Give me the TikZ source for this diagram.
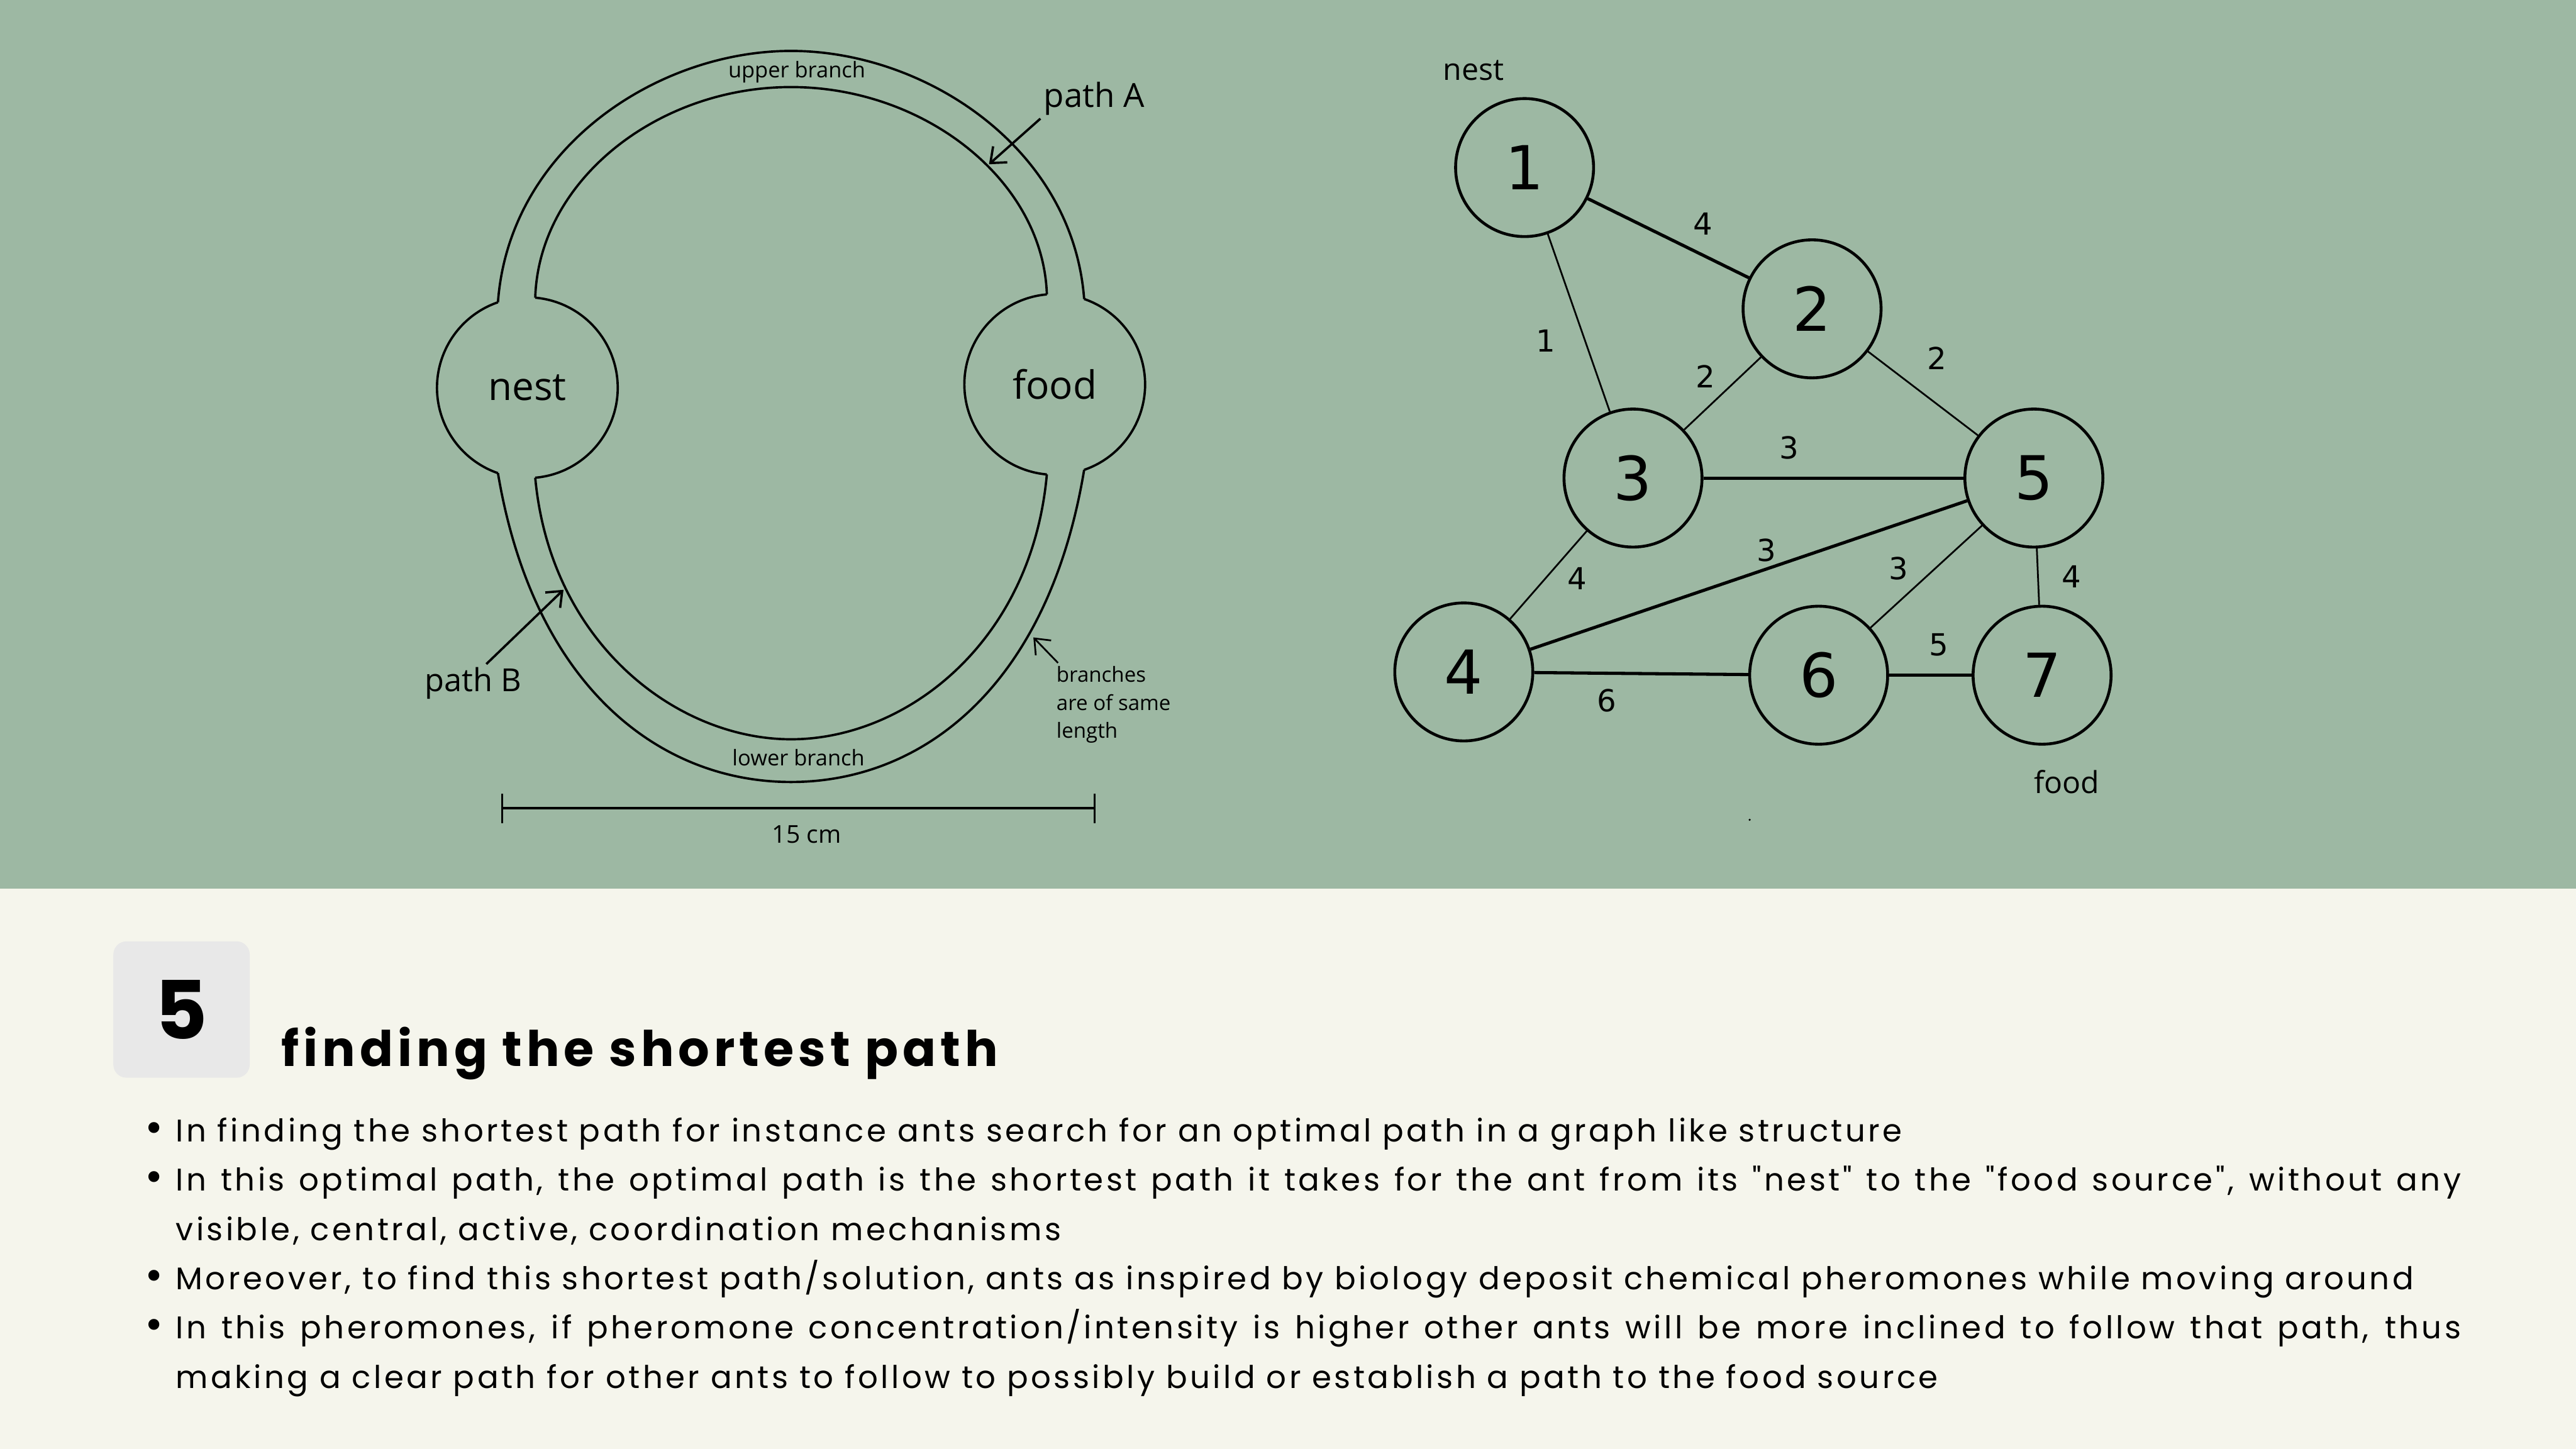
\documentclass[tikz,border=0pt]{standalone}
\usepackage{fontspec}
\setmainfont{Open Sans}
\newfontfamily\numfont{DejaVu Sans}
\newfontfamily\bodyfont[LetterSpace=9]{Poppins}
\newfontfamily\headfont[LetterSpace=9]{Poppins}
\usetikzlibrary{arrows.meta}

\definecolor{sage}{HTML}{9DB8A3}
\definecolor{paper}{HTML}{F5F5EC}
\definecolor{chip}{HTML}{E8E8E8}

\tikzset{
  chan/.style={line width=0.8pt},
  tag/.style={inner sep=1pt},
  pointer/.style={-{Straight Barb[length=1.6mm,width=2.6mm]}, line width=0.8pt},
  vertex/.style={circle, draw, line width=1pt, minimum size=16.8mm, inner sep=0pt,
    font=\numfont\fontsize{21}{24}\selectfont},
  link/.style={line width=0.6pt},
  wide/.style={line width=1.1pt},
  weight/.style={font=\numfont\fontsize{10.5}{12}\selectfont, inner sep=2pt},
}

\newcommand\dotrow[1]{\makebox[4mm][l]{\numfont\fontsize{13}{13}\selectfont •}#1}

\begin{document}
\begin{tikzpicture}[x=0.2mm, y=0.2mm]
  % background bands
  \fill[sage] (0,0) rectangle (1568,-541);
  \fill[paper] (0,-541) rectangle (1568,-882);
  \useasboundingbox (0,0) rectangle (1568,-882);

  % double bridge
  \node (nest) at (321,-236) {\fontsize{13.5}{16}\selectfont nest};
  \node (food) at (642,-234) {\fontsize{13.5}{16}\selectfont food};
  \coordinate (na) at ([shift={(109:55)}]nest.center);
  \coordinate (nb) at ([shift={(85:55)}]nest.center);
  \coordinate (nc) at ([shift={(251:55)}]nest.center);
  \coordinate (nd) at ([shift={(275:55)}]nest.center);
  \coordinate (fa) at ([shift={(71:55)}]food.center);
  \coordinate (fb) at ([shift={(95:55)}]food.center);
  \coordinate (fc) at ([shift={(289:55)}]food.center);
  \coordinate (fd) at ([shift={(265:55)}]food.center);
  \draw[chan] (na) arc[start angle=109, end angle=251, radius=55];
  \draw[chan] (nd) arc[start angle=275, end angle=445, radius=55];
  \draw[chan] (fb) arc[start angle=95, end angle=265, radius=55];
  \draw[chan] (fc) arc[start angle=289, end angle=431, radius=55];
  \draw[chan] (na) .. controls (310,-90) and (400,-31) .. (481.5,-31)
                   .. controls (563,-31) and (653,-90) .. (fa);
  \draw[chan] (nb) .. controls (328,-110) and (400,-53) .. (481.5,-53)
                   .. controls (563,-53) and (635,-110) .. (fb);
  \draw[chan] (nc) .. controls (325,-418) and (401.5,-476) .. (481.5,-476)
                   .. controls (561.5,-476) and (638,-418) .. (fc);
  \draw[chan] (nd) .. controls (335,-391) and (411.5,-450) .. (481.5,-450)
                   .. controls (551.5,-450) and (628,-391) .. (fd);
  \node[tag] (up) at (485,-44) {\fontsize{7.5}{9}\selectfont upper branch};
  \node[tag] (low) at (486,-461) {\fontsize{7.5}{9}\selectfont lower branch};

  \node[tag] (pa) at (666,-60) {\fontsize{11.5}{14}\selectfont path A};
  \coordinate (tipA) at (602,-100);
  \draw[pointer] (pa.south west) -- (tipA);
  \node[tag] (pb) at (288,-416) {\fontsize{11}{13}\selectfont path B};
  \coordinate (tipB) at (343,-359);
  \draw[pointer] ([xshift=1.6mm]pb.north) -- (tipB);
  \node[tag, anchor=west, align=left, font=\fontsize{7.2}{9.7}\selectfont] (same)
    at (641,-429) {branches\\are of same\\length};
  \coordinate (tipC) at (629,-388);
  \draw[pointer, line width=0.6pt] ([xshift=0.6mm]same.north west) -- (tipC);

  \coordinate (dl) at (305,-492);
  \coordinate (dr) at (667,-492);
  \draw[{Bar[width=3.6mm]}-{Bar[width=3.6mm]}, line width=0.8pt] (dl) -- (dr);
  \node[tag] (len) at (491,-508) {\fontsize{8.5}{10}\selectfont 15 cm};

  % weighted graph
  \node[vertex] (v1) at (928,-102) {1};
  \node[vertex] (v2) at (1103,-188) {2};
  \node[vertex] (v3) at (994,-291) {3};
  \node[vertex] (v5) at (1238,-291) {5};
  \node[vertex] (v4) at (891,-409) {4};
  \node[vertex] (v6) at (1107,-411) {6};
  \node[vertex] (v7) [right of=v6, node distance=27.2mm] {7};
  \node[tag] (src) at (897,-43) {\fontsize{10.5}{12}\selectfont nest};
  \node[tag] (dst) at (1258,-476) {\fontsize{10.5}{12}\selectfont food};
  \fill (1065,-499) circle (0.7);

  \path[link] (v1) edge[wide] node[weight, pos=.59, above right=1pt] {4} (v2)
              (v1) edge node[weight, pos=.60, left=8pt] {1} (v3)
              (v2) edge node[weight, pos=.51, above left] {2} (v3)
              (v2) edge node[weight, pos=.40, above right=3pt] {2} (v5)
              (v3) edge[wide] node[weight, pos=.33, above=4pt] {3} (v5)
              (v3) edge node[weight, pos=.34, below right] {4} (v4)
              (v4) edge[wide] node[weight, pos=.54, above] {3} (v5)
              (v5) edge node[weight, pos=.60, above left] {3} (v6)
              (v5) edge node[weight, pos=.50, right=6pt] {4} (v7)
              (v4) edge[wide] node[weight, pos=.34, below=3pt] {6} (v6)
              (v6) edge[wide] node[weight, pos=.60, above=4pt] {5} (v7);

  % caption panel
  \node[fill=chip, rounded corners=1.6mm, minimum size=16.6mm, inner sep=0pt,
        font=\headfont\bfseries\fontsize{28}{30}\selectfont] (num) at (110.5,-614.5) {5};
  \node[anchor=base west, inner sep=0pt,
        font=\headfont\bfseries\fontsize{17}{20}\selectfont] (title) at (171,-649)
    {finding the shortest path};
  \node[anchor=north west, align=left, inner sep=0pt,
        font=\bodyfont\fontsize{10.85}{17.07}\selectfont] (notes) at (86.7,-680)
    {\dotrow{In finding the shortest path for instance ants search for an optimal path in a graph like structure}\\
     \dotrow{\makebox[278.2mm][s]{In this optimal path, the optimal path is the shortest path it takes for the ant from its "nest" to the "food source", without any}}\\
     \hspace*{4mm}visible, central, active, coordination mechanisms\\
     \dotrow{Moreover, to find this shortest path/solution, ants as inspired by biology deposit chemical pheromones while moving around}\\
     \dotrow{\makebox[278.2mm][s]{In this pheromones, if pheromone concentration/intensity is higher other ants will be more inclined to follow that path, thus}}\\
     \hspace*{4mm}making a clear path for other ants to follow to possibly build or establish a path to the food source};
\end{tikzpicture}
\end{document}
